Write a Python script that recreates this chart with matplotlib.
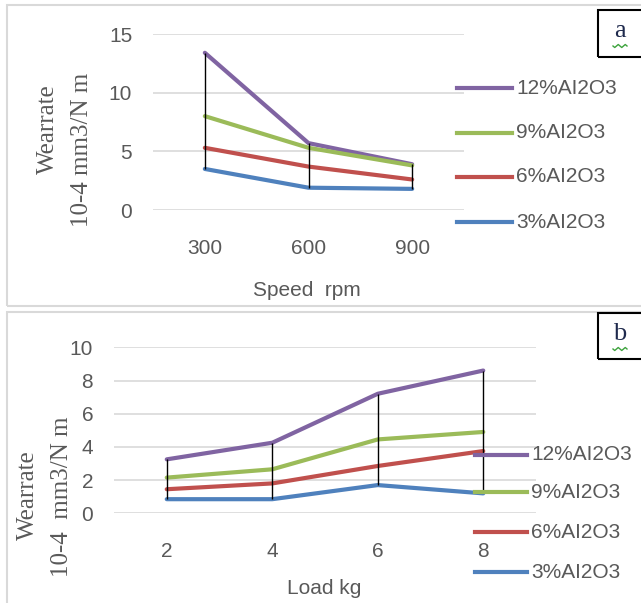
import numpy as np
import matplotlib
matplotlib.use("Agg")
import matplotlib.pyplot as plt
from matplotlib.lines import Line2D
from matplotlib.patches import Rectangle

# data
speed = ["300", "600", "900"]
load = ["2", "4", "6", "8"]
series = ["12%AI2O3", "9%AI2O3", "6%AI2O3", "3%AI2O3"]

wear_speed_12 = [13.4, 5.7, 3.9]
wear_speed_9 = [8.0, 5.3, 3.8]
wear_speed_6 = [5.3, 3.7, 2.6]
wear_speed_3 = [3.5, 1.9, 1.8]

wear_load_12 = [3.25, 4.25, 7.2, 8.6]
wear_load_9 = [2.15, 2.65, 4.45, 4.9]
wear_load_6 = [1.45, 1.8, 2.85, 3.75]
wear_load_3 = [0.85, 0.85, 1.7, 1.2]

colors = ["#8064A2", "#9BBB59", "#C0504D", "#4F81BD"]
grey = "#595959"

W, H = 641, 603
fig = plt.figure(figsize=(W / 100, H / 100), dpi=100)


def px(x0, y0, x1, y1):
    # pixel box -> figure fraction [left, bottom, width, height]
    return [x0 / W, 1 - y1 / H, (x1 - x0) / W, (y1 - y0) / H]


def panel(box, ylim, yticks, cats, data, xlabel, xlabel_pos, ylab_pos, leg_x, leg_y, tag, tag_box):
    # outer frame of the panel
    fx, fy, fw, fh = px(*box)
    fig.add_artist(Rectangle((fx, fy), fw, fh, transform=fig.transFigure,
                             fill=False, edgecolor="#D9D9D9", lw=1.5))

    ax = fig.add_axes(px(*ylim[0]))
    x = np.arange(len(cats))
    for vals, c in zip(data, colors):
        ax.plot(x, vals, color=c, lw=3, solid_capstyle="round", zorder=3)
    arr = np.array(data)
    ax.vlines(x, arr.min(axis=0), arr.max(axis=0), color="black", lw=1, zorder=4)

    ax.set_xlim(-0.5, len(cats) - 0.5)
    ax.set_ylim(0, ylim[1])
    ax.set_xticks(x)
    ax.set_xticklabels(cats)
    ax.set_yticks(yticks)
    for s in ax.spines.values():
        s.set_visible(False)
    ax.grid(axis="y", color="#D9D9D9", lw=1.2)
    ax.set_axisbelow(True)
    ax.tick_params(length=0, labelsize=15, labelcolor=grey)
    ax.tick_params(axis="x", pad=21)
    ax.tick_params(axis="y", pad=15)
    for t in ax.get_xticklabels() + ax.get_yticklabels():
        t.set_family("Liberation Sans")

    fig.text(xlabel_pos[0] / W, 1 - xlabel_pos[1] / H, xlabel, ha="center", va="center",
             fontsize=15, color=grey, family="Liberation Sans")
    fig.text(ylab_pos[0][0] / W, 1 - ylab_pos[0][1] / H, "Wearrate", rotation=90,
             ha="center", va="center", fontsize=18, color=grey, family="Liberation Serif")
    fig.text(ylab_pos[1][0] / W, 1 - ylab_pos[1][1] / H, ylab_pos[2], rotation=90,
             ha="center", va="center", fontsize=18, color=grey, family="Liberation Serif")

    # legend
    for name, c, ly in zip(series, colors, leg_y):
        fig.add_artist(Line2D([leg_x[0] / W, leg_x[1] / W], [1 - ly / H] * 2,
                              transform=fig.transFigure, color=c, lw=3))
        fig.text((leg_x[1] + 4) / W, 1 - ly / H, name, ha="left", va="center",
                 fontsize=15, color=grey, family="Liberation Sans")

    # small tag box
    bx0, by0, bx1, by1 = tag_box
    tx, ty, tw, th = px(bx0, by0, bx1, by1)
    fig.add_artist(Rectangle((tx, ty), tw, th, transform=fig.transFigure,
                             fill=False, edgecolor="black", lw=1.5))
    cx = (bx0 + 22) / W
    fig.text(cx, 1 - (by0 + 21) / H, tag, ha="center", va="center",
             fontsize=19, color="#1F2A4D", family="Liberation Serif")
    sx = np.linspace(bx0 + 15, bx0 + 29, 9)
    sy = by0 + 36 + np.array([0, 1.5, 0, -1.5, 0, 1.5, 0, -1.5, 0])
    fig.add_artist(Line2D(sx / W, 1 - sy / H, transform=fig.transFigure,
                          color="#3DA33D", lw=1))
    return ax


panel(box=(7, 5, 660, 306), ylim=((153, 34, 464, 210), 15), yticks=[0, 5, 10, 15],
      cats=speed, data=[wear_speed_12, wear_speed_9, wear_speed_6, wear_speed_3],
      xlabel="Speed  rpm", xlabel_pos=(307, 290),
      ylab_pos=((48, 129), (82, 150), "10-4 mm3/N m"),
      leg_x=(457, 512), leg_y=(88, 133, 177, 222), tag="a", tag_box=(598, 10, 660, 57))

panel(box=(7, 312, 660, 610), ylim=((114, 347.3, 536, 513.3), 10), yticks=[0, 2, 4, 6, 8, 10],
      cats=load, data=[wear_load_12, wear_load_9, wear_load_6, wear_load_3],
      xlabel="Load kg", xlabel_pos=(324, 588),
      ylab_pos=((28, 495), (62, 497), "10-4  mm3/N m"),
      leg_x=(475, 527), leg_y=(455, 492, 532, 572), tag="b", tag_box=(598, 313, 660, 359))

fig.savefig("out.png", dpi=100)
